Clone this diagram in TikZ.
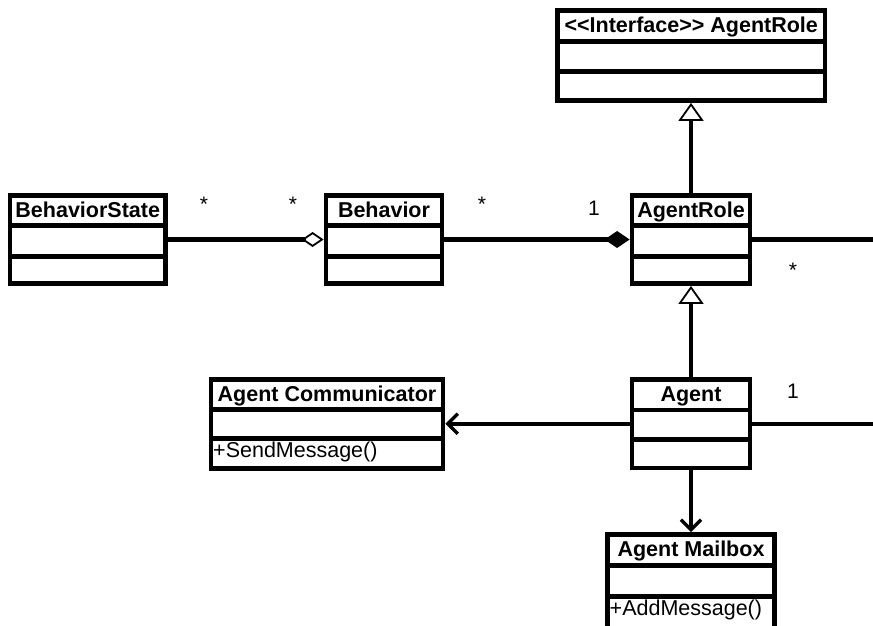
\documentclass[tikz,border=0pt]{standalone}
\usepackage{fontspec}
\setmainfont{Liberation Sans}
\usetikzlibrary{arrows.meta}

% UML class box: name, left x, top y, width, height, first divider, second divider, title, operations
\newcommand\umlclass[9]{%
  \node[classbox, minimum width=#4pt, minimum height=#5pt] (#1) at ({#2+#4/2},{#3+#5/2}) {};
  \draw[divider] ({#2},{#3+#6}) -- ({#2+#4},{#3+#6});
  \draw[divider] ({#2},{#3+#7}) -- ({#2+#4},{#3+#7});
  \node[titletext, anchor=base] (#1-title) at ({#2+#4/2},{#3+22}) {#8};
  \node[opstext, anchor=base west] (#1-ops) at ({#2+2},{#3+#7+19}) {#9};
}

\begin{document}
\begin{tikzpicture}[x=1pt, y=-1pt,
  classbox/.style={draw, rectangle, line width=4.8pt, inner sep=0pt, outer sep=2.4pt, fill=white},
  divider/.style={line width=4.6pt},
  titletext/.style={font=\bfseries\fontsize{21.5}{24}\selectfont, inner sep=0pt},
  opstext/.style={font=\fontsize{21.5}{24}\selectfont, inner sep=0pt},
  mult/.style={font=\fontsize{21}{24}\selectfont, inner sep=0pt},
  conn/.style={line width=4.2pt},
  aggregation/.style={-{Diamond[open, length=22pt, width=15pt, line width=1.8pt]}},
  composition/.style={-{Diamond[length=25pt, width=17pt]}},
  inherits/.style={-{Triangle[open, length=18pt, width=25pt, line width=1.8pt]}},
  navigates/.style={-{Straight Barb[length=10pt, width=20pt, line width=3.4pt]}},
]
\useasboundingbox (0,0) rectangle (873,625);

% classes
\umlclass{iface}{557.5}{10.5}{267.5}{90}{31}{61}{{<}{<}Interface{>}{>} AgentRole}{}
\umlclass{bstate}{10}{195.5}{155.5}{88}{30}{61}{BehaviorState}{}
\umlclass{behav}{326}{195.5}{116}{88}{30}{61}{Behavior}{}
\umlclass{role}{632}{195.5}{118}{88}{30}{61}{AgentRole}{}
\umlclass{comm}{211}{379.5}{232}{89}{30}{59}{Agent Communicator}{+SendMessage()}
\umlclass{agent}{632}{379.5}{118}{88.5}{30.5}{60}{Agent}{}
\umlclass{mail}{607.5}{534.5}{167}{95}{31}{62}{Agent Mailbox}{+AddMessage()}

% free ends of the two associations leaving to the right
\coordinate (roleout) at (873,239.5);
\coordinate (agentout) at (873,423.75);

% relations
\draw[conn, aggregation] (bstate.east) -- (behav.west);
\draw[conn, composition] (behav.east) -- (role.west);
\draw[conn] (role.east) -- (roleout);
\draw[conn, inherits] (role.north) -- (role.north |- iface.south);
\draw[conn, inherits] (agent.north) -- (agent.north |- role.south);
\draw[conn] (agent.east) -- (agentout);
\draw[conn, navigates] (agent.west) -- (agent.west -| comm.east);
\draw[conn, navigates] (agent.south) -- (agent.south |- mail.north);

% multiplicities
\node[mult] (m1) at (204,204) {*};
\node[mult] (m2) at (293,204) {*};
\node[mult] (m3) at (482,204) {*};
\node[mult] (m4) at (594,208) {1};
\node[mult] (m5) at (793,270) {*};
\node[mult] (m6) at (793,391) {1};
\end{tikzpicture}
\end{document}
